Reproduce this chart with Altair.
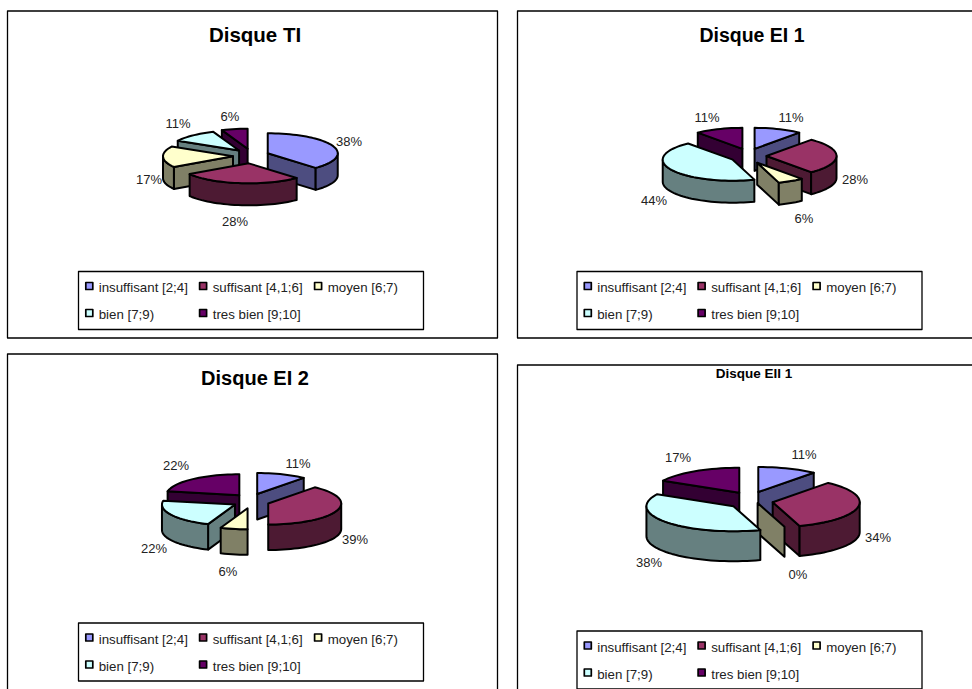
import math
import altair as alt

categories = ["insuffisant [2;4]", "suffisant [4,1;6]", "moyen [6;7)", "bien [7;9)", "tres bien [9;10]"]
top_colors = ["#9999FF", "#993366", "#FFFFCC", "#CCFFFF", "#660066"]
side_colors = ["#4D4D80", "#4D1A33", "#808066", "#668080", "#330033"]

titles = ["Disque TI", "Disque EI 1", "Disque EI 2", "Disque EII 1"]
values_ti = [38, 28, 17, 11, 6]
values_ei1 = [11, 28, 6, 44, 11]
values_ei2 = [11, 39, 6, 22, 22]
values_eii1 = [11, 34, 0, 38, 17]

# Per-panel layout: frame, title, pie geometry, paint order, label anchors, legend box.
panels = [
    dict(values=values_ti, title=titles[0], frame=(7.5, 11, 497.5, 338), title_xy=(255, 36), title_size=20.5,
         cx=251, cy=156, rx=70, ry=20, depth=22, explode=18, ke=7.4, order=[4, 3, 0, 2, 1], nudge={},
         labels=[(349, 142), (235, 222), (149, 180), (178, 124), (230, 117)], legend=(78.5, 271.5)),
    dict(values=values_ei1, title=titles[1], frame=(517.5, 11, 980, 338), title_xy=(752, 36), title_size=19.5,
         cx=748.5, cy=156, rx=70, ry=21, depth=22, explode=18, ke=7.6, order=[4, 0, 1, 3, 2], nudge={},
         labels=[(791, 118), (855, 180), (804, 219), (654, 201), (707, 118)], legend=(577, 271.5)),
    dict(values=values_ei2, title=titles[2], frame=(7.5, 354, 497.5, 700), title_xy=(255, 379), title_size=20,
         cx=251, cy=501, rx=73, ry=21, depth=25.5, explode=18.3, ke=7.4, order=[0, 4, 1, 3, 2], nudge={},
         labels=[(298, 464), (355, 540), (228, 572), (154, 549), (176, 466)], legend=(78.5, 623)),
    dict(values=values_eii1, title=titles[3], frame=(517.5, 365, 980, 700), title_xy=(754, 374), title_size=13.5,
         cx=750.7, cy=500.5, rx=87, ry=25, depth=30, explode=22.4, ke=9, order=[0, 4, 1, 2, 3], nudge={2: -6},
         labels=[(804, 455), (878, 538), (798, 575), (649, 563), (678, 458)], legend=(577, 631)),
]

LEGEND_W, LEGEND_H = 345, 58
SWATCH_COLS = [(10.8, 20.2), (124.6, 134.2), (239.6, 249.2)]
LEGEND_SLOTS = [(0, 0), (1, 0), (2, 0), (0, 1), (1, 1)]
STEP = 3.0


def polygon(points, fill):
    ring = [list(p) for p in points]
    ring.append(list(points[0]))
    return {
        "type": "Feature",
        "geometry": {"type": "Polygon", "coordinates": [ring]},
        "properties": {"fill": fill},
    }


def slice_faces(p, start, end, index):
    """Wedge of an extruded elliptical pie: visible walls, outer rim, then top face."""
    mid = math.radians((start + end) / 2)
    ax = p["cx"] + p["explode"] * math.sin(mid)
    ay = p["cy"] - p["ke"] * math.cos(mid) + p["nudge"].get(index, 0)
    d = p["depth"]

    def rim(deg):
        t = math.radians(deg)
        return (ax + p["rx"] * math.sin(t), ay - p["ry"] * math.cos(t))

    def wall(deg):
        x, y = rim(deg)
        return polygon([(ax, ay), (x, y), (x, y + d), (ax, ay + d)], side_colors[index])

    faces = []
    if end - start < 1e-6:
        faces.append(wall(start))
        return faces

    qx, qy = rim((start + end) / 2)
    for deg in (start, end):
        x, y = rim(deg)
        nx, ny = (y - ay), -(x - ax)
        if nx * (qx - ax) + ny * (qy - ay) > 0:
            nx, ny = -nx, -ny
        if ny > 1e-6:
            faces.append(wall(deg))

    lo, hi = max(start, 90), min(end, 270)
    if hi > lo:
        n = max(2, int((hi - lo) / STEP))
        arc = [rim(lo + (hi - lo) * i / n) for i in range(n + 1)]
        faces.append(polygon(arc + [(x, y + d) for x, y in reversed(arc)], side_colors[index]))

    n = max(2, int((end - start) / STEP))
    top = [(ax, ay)] + [rim(start + (end - start) * i / n) for i in range(n + 1)]
    faces.append(polygon(top, top_colors[index]))
    return faces


frame_shapes, pie_shapes, swatch_shapes = [], [], []
value_rows, title_rows, legend_rows = [], [], []
for p in panels:
    x0, y0, x1, y1 = p["frame"]
    frame_shapes.append(polygon([(x0, y0), (x1, y0), (x1, y1), (x0, y1)], "#FFFFFF"))

    total = sum(p["values"])
    edges = [0.0]
    for v in p["values"]:
        edges.append(edges[-1] + 360.0 * v / total)
    for i in p["order"]:
        pie_shapes.extend(slice_faces(p, edges[i], edges[i + 1], i))

    for v, (lx, ly) in zip(p["values"], p["labels"]):
        value_rows.append({"x": lx, "y": ly, "t": f"{v}%"})
    title_rows.append({"x": p["title_xy"][0], "y": p["title_xy"][1], "t": p["title"], "s": p["title_size"]})

    bx, by = p["legend"]
    frame_shapes.append(polygon([(bx, by), (bx + LEGEND_W, by), (bx + LEGEND_W, by + LEGEND_H), (bx, by + LEGEND_H)], "#FFFFFF"))
    for i, (col, row) in enumerate(LEGEND_SLOTS):
        sx = bx + SWATCH_COLS[col][0]
        sy = by + 14.5 + 27 * row
        swatch_shapes.append(polygon([(sx - 3.5, sy - 3.5), (sx + 3.5, sy - 3.5), (sx + 3.5, sy + 3.5), (sx - 3.5, sy + 3.5)], top_colors[i]))
        legend_rows.append({"x": bx + SWATCH_COLS[col][1], "y": by + 16.5 + 27 * row, "t": categories[i]})

x_enc = alt.X("x:Q", scale=alt.Scale(domain=[0, 972], nice=False, zero=False), axis=None)
y_enc = alt.Y("y:Q", scale=alt.Scale(domain=[0, 689], nice=False, zero=False, reverse=True), axis=None)


def shape_layer(features, width):
    return (
        alt.Chart(alt.Data(values=features))
        .mark_geoshape(stroke="#000000", strokeJoin="round", strokeWidth=width)
        .encode(fill=alt.Fill("properties.fill:N", scale=None, legend=None))
        .project(type="identity", scale=1, translate=[0, 0])
    )


font = "Liberation Sans"
value_layer = (
    alt.Chart(alt.Data(values=value_rows))
    .mark_text(font=font, fontSize=13, color="#222222", align="center", baseline="middle")
    .encode(x=x_enc, y=y_enc, text="t:N")
)
legend_layer = (
    alt.Chart(alt.Data(values=legend_rows))
    .mark_text(font=font, fontSize=13.3, color="#222222", align="left", baseline="middle")
    .encode(x=x_enc, y=y_enc, text="t:N")
)
title_layer = (
    alt.Chart(alt.Data(values=title_rows))
    .mark_text(font=font, fontWeight="bold", color="#000000", align="center", baseline="middle")
    .encode(x=x_enc, y=y_enc, text="t:N", size=alt.Size("s:Q", scale=None, legend=None))
)

chart = (
    alt.layer(
        shape_layer(frame_shapes, 1.3),
        shape_layer(pie_shapes, 2),
        shape_layer(swatch_shapes, 1.7),
        value_layer,
        legend_layer,
        title_layer,
    )
    .properties(width=972, height=689, padding=0, autosize=alt.AutoSizeParams(type="none"), background="#FFFFFF")
    .configure_view(stroke=None)
)

chart.save("out.html", embed_options={"renderer": "svg", "actions": False})
